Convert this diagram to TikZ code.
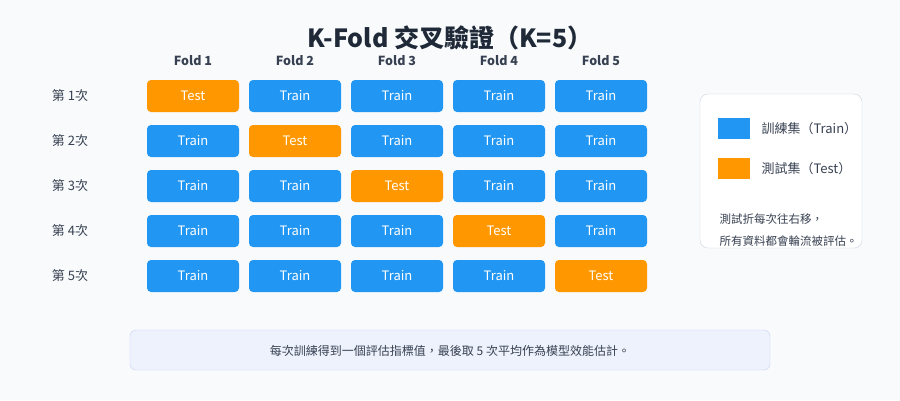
\documentclass[tikz,border=0pt]{standalone}
\usepackage{fontspec}
\setmainfont{Noto Sans CJK TC}
\usetikzlibrary{positioning}
\definecolor{trainblue}{HTML}{2196F3}
\definecolor{testorange}{HTML}{FF9800}
\definecolor{bgcol}{HTML}{F8FAFC}
\definecolor{inkcol}{HTML}{1F2937}
\definecolor{labcol}{HTML}{374151}
\definecolor{boxline}{HTML}{CBD5E1}
\definecolor{notefill}{HTML}{EEF2FD}
\definecolor{noteline}{HTML}{C7D2F0}
\begin{document}
\begin{tikzpicture}[x=1pt,y=-1pt]
\tikzstyle{cell}=[rounded corners=4pt, minimum width=92pt, minimum height=32pt, text=white, font=\fontsize{13}{15}\selectfont, inner sep=0pt]
\tikzstyle{train}=[cell, fill=trainblue]
\tikzstyle{test}=[cell, fill=testorange]
\tikzstyle{lab}=[text=labcol, font=\fontsize{13}{15}\selectfont]

%%%%% FONDO
\fill[bgcol] (0,0) rectangle (900,400);
\useasboundingbox (0,0) rectangle (900,400);

%%%%% TITULO
\node[text=inkcol, font=\fontsize{25}{28}\selectfont\bfseries] (title) at (450,38) {K-Fold 交叉驗證（K=5）};

%%%%% CABECERAS
\foreach \j in {1,...,5} {
  \node[lab, font=\fontsize{12.5}{15}\selectfont\bfseries] (fold_\j) at (91+102*\j,61) {Fold \j};
}

%%%%% FILAS
\foreach \i in {1,...,5} {
  \node[lab] (run_\i) at (70,51+45*\i) {第 \i 次};
  \foreach \j in {1,...,5} {
    \ifnum\i=\j
      \node[test] (c_\i_\j) at (91+102*\j,51+45*\i) {Test};
    \else
      \node[train] (c_\i_\j) at (91+102*\j,51+45*\i) {Train};
    \fi
  }
}

%%%%% LEYENDA
\draw[boxline, fill=white, rounded corners=8pt] (700,94) rectangle (862,248);
\fill[trainblue] (718,118) rectangle (750,139);
\node[lab, anchor=west] (leg_train) at (758,129) {訓練集（Train）};
\fill[testorange] (718,158) rectangle (750,179);
\node[lab, anchor=west] (leg_test) at (758,169) {測試集（Test）};
\node[lab, anchor=west, font=\fontsize{11.5}{14}\selectfont] (note_1) at (716,219) {測試折每次往右移，};
\node[lab, anchor=west, font=\fontsize{11.5}{14}\selectfont] (note_2) at (716,241) {所有資料都會輪流被評估。};

%%%%% NOTA INFERIOR
\draw[noteline, fill=notefill, rounded corners=6pt] (130,330) rectangle (770,370);
\node[lab, font=\fontsize{12}{14}\selectfont] (summary) at (450,351) {每次訓練得到一個評估指標值，最後取 5 次平均作為模型效能估計。};
\end{tikzpicture}
\end{document}
